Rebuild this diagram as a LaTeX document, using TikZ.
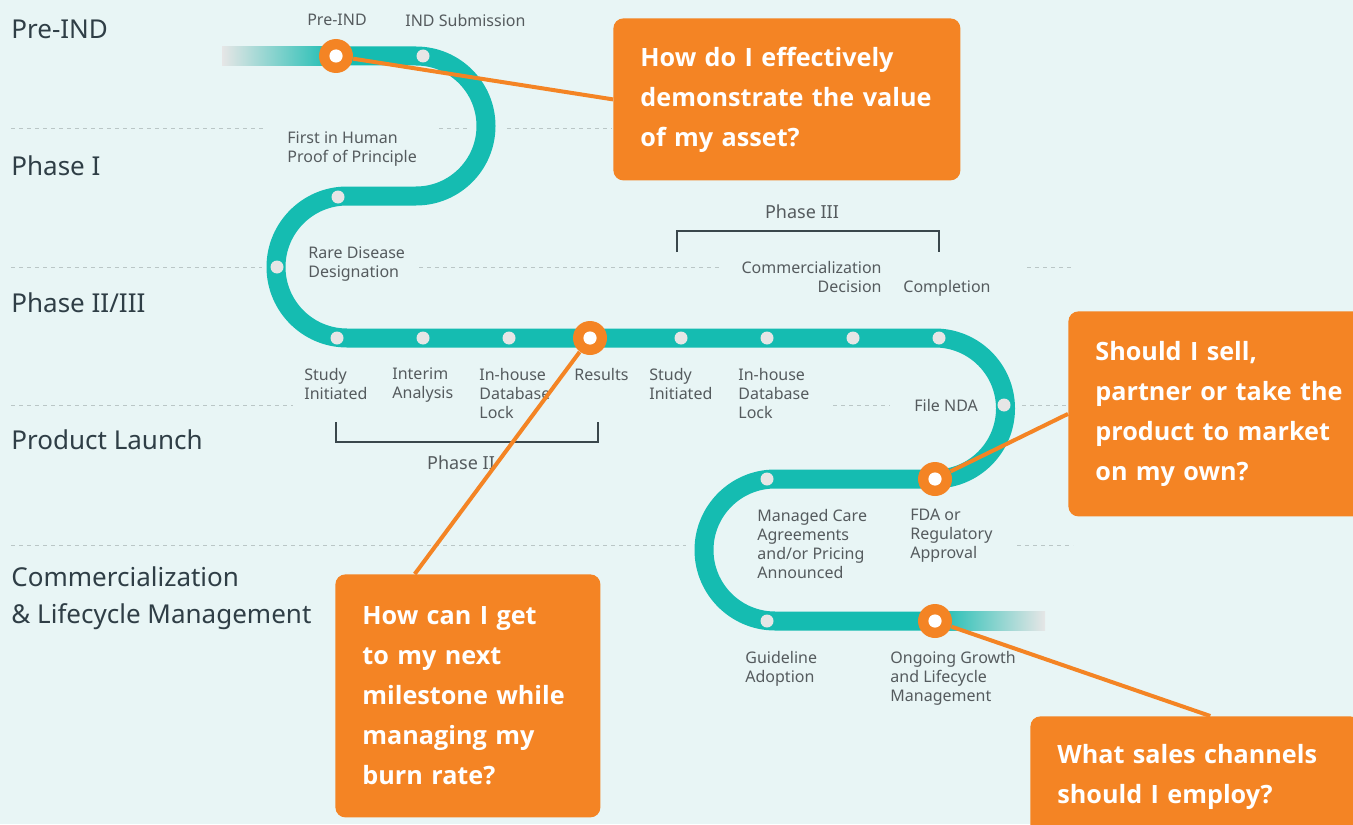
\documentclass[tikz,border=0pt]{standalone}
\usepackage{fontspec}
\setmainfont{Noto Sans}
\IfFontExistsTF{Noto Sans Bold}{\newfontfamily\qfont{Noto Sans Bold}}{%
  \IfFontExistsTF{Open Sans Bold}{\newfontfamily\qfont{Open Sans Bold}}{%
    \newfontfamily\qfont{Lato Bold}}}
\usetikzlibrary{calc}
\definecolor{bgc}{HTML}{E8F5F5}
\definecolor{tealc}{HTML}{15BCB1}
\definecolor{orangec}{HTML}{F48424}
\definecolor{dotc}{HTML}{E6E6E6}
\definecolor{labcol}{HTML}{555B5E}
\definecolor{headcol}{HTML}{2F3E46}
\definecolor{dashcol}{HTML}{BAC6C6}
\definecolor{brkcol}{HTML}{3A474C}
\begin{document}
\begin{tikzpicture}[x=0.5pt,y=-0.5pt,
  lab/.style={font=\fontsize{8pt}{9.5pt}\selectfont, text=labcol, inner sep=0pt, align=left, anchor=north west},
  labr/.style={lab, align=right, anchor=north east},
  labctr/.style={font=\fontsize{9pt}{11pt}\selectfont, text=labcol, inner sep=0pt, anchor=center},
  labtop/.style={font=\fontsize{8pt}{9.5pt}\selectfont, text=labcol, inner sep=0pt, anchor=center},
  head/.style={font=\fontsize{13pt}{18.5pt}\selectfont, text=headcol, inner sep=0pt, align=left, anchor=north west},
  gridline/.style={draw=dashcol, line width=0.5pt, dash pattern=on 2pt off 2pt},
  track/.style={draw=tealc, line width=9.5pt},
  wdot/.style={circle, fill=dotc, minimum size=6.5pt, inner sep=0pt},
  odot/.style={circle, fill=orangec, minimum size=17pt, inner sep=0pt,
    path picture={\fill[white] (path picture bounding box.center) circle (3.3pt);}},
  qbox/.style={fill=orangec, rounded corners=5pt, text=white,
    font=\qfont\fontsize{12.6pt}{20pt}\selectfont, align=left, anchor=north west,
    inner xsep=13.5pt, inner ysep=0pt},
  conn/.style={draw=orangec, line width=2pt},
  brk/.style={draw=brkcol, line width=0.75pt}
]
\useasboundingbox (0,0) rectangle (1353,824);
\clip (0,0) rectangle (1353,824);
\fill[bgc] (0,0) rectangle (1353,824);

% dashed separators
\draw[gridline] (11,128) -- (265,128);
\draw[gridline] (439,128) -- (469,128);
\draw[gridline] (507,128) -- (612,128);
\draw[gridline] (11,267) -- (262,267);
\draw[gridline] (419,267) -- (719,267);
\draw[gridline] (1027,267) -- (1073,267);
\draw[gridline] (11,405) -- (293,405);
\draw[gridline] (833,405) -- (890,405);
\draw[gridline] (1022,405) -- (1068,405);
\draw[gridline] (11,545) -- (686,545);
\draw[gridline] (1017,545) -- (1073,545);

% headings
\node[head] (h1) at (11,19.5) {Pre-IND};
\node[head] (h2) at (11,155.5) {Phase I};
\node[head] (h3) at (11,292.5) {Phase II/III};
\node[head] (h4) at (11,429.5) {Product Launch};
\node[head] (h5) at (11,566.5) {Commercialization\\\& Lifecycle Management};

% track
\shade[left color=dotc, right color=tealc] (222,46.5) rectangle (336,65.5);
\shade[left color=tealc, right color=dotc] (935,611.5) rectangle (1045,630.5);
\draw[track] (335,56) -- (416,56) arc[start angle=-90,end angle=90,radius=70]
  -- (347,196) arc[start angle=-90,end angle=-270,radius=71]
  -- (935,338) arc[start angle=-90,end angle=90,radius=70.5]
  -- (775,479) arc[start angle=-90,end angle=-270,radius=71]
  -- (936,621);

% brackets
\draw[brk] (677,252) -- (677,231) -- (939,231) -- (939,252);
\draw[brk] (336,422) -- (336,442) -- (598,442) -- (598,422);

% stops
\node[wdot] (d1) at (423,56) {};
\node[wdot] (d2) at (338,197) {};
\node[wdot] (d3) at (277,267) {};
\node[wdot] (d4) at (337,338) {};
\node[wdot] (d5) at (423,338) {};
\node[wdot] (d6) at (509,338) {};
\node[wdot] (d7) at (681,338) {};
\node[wdot] (d8) at (767,338) {};
\node[wdot] (d9) at (853,338) {};
\node[wdot] (d10) at (939,338) {};
\node[wdot] (d11) at (1004,405) {};
\node[wdot] (d12) at (767,479) {};
\node[wdot] (d13) at (767,621) {};
\node[odot] (o1) at (336,56) {};
\node[odot] (o2) at (590,338) {};
\node[odot] (o3) at (935,479) {};
\node[odot] (o4) at (935,621) {};

% stop labels
\node[labtop] (t1) at (337,20) {Pre-IND};
\node[lab] (t2) at (405,13.5) {IND Submission};
\node[lab] (t3) at (287,131.5) {First in Human\\Proof of Principle};
\node[lab] (t4) at (308,246.5) {Rare Disease\\Designation};
\node[lab] (t5) at (304,367.5) {Study\\Initiated};
\node[lab] (t6) at (392,367.5) {Interim\\Analysis};
\node[lab] (t7) at (479,367.5) {In-house\\Database\\Lock};
\node[lab] (t8) at (574,367.5) {Results};
\node[lab] (t9) at (649,367.5) {Study\\Initiated};
\node[lab] (t10) at (738,367.5) {In-house\\Database\\Lock};
\node[labctr] (t11) at (802,212) {Phase III};
\node[labr] (t12) at (882,260.5) {Commercialization\\Decision};
\node[lab] (t13) at (903,279.5) {Completion};
\node[lab] (t14) at (914,398.5) {File NDA};
\node[labctr] (t15) at (461,463) {Phase II};
\node[lab] (t16) at (757,508.5) {Managed Care\\Agreements\\and/or Pricing\\Announced};
\node[lab] (t17) at (910,508.5) {FDA or\\Regulatory\\Approval};
\node[lab] (t18) at (745,650.5) {Guideline\\Adoption};
\node[lab] (t19) at (890,650.5) {Ongoing Growth\\and Lifecycle\\Management};

% question boxes
\node[qbox, minimum height=81pt, text width=146.5pt] (q1) at (613,18)
  {\mbox{How do I effectively}\\\mbox{demonstrate the value}\\\mbox{of my asset?}};
\node[qbox, minimum height=102.5pt, text width=123pt] (q2) at (1068,311)
  {\mbox{Should I sell,}\\\mbox{partner or take the}\\\mbox{product to market}\\\mbox{on my own?}};
\node[qbox, minimum height=121.5pt, text width=105.5pt] (q3) at (335,574)
  {\mbox{How can I get}\\\mbox{to my next}\\\mbox{milestone while}\\\mbox{managing my}\\\mbox{burn rate?}};
\node[qbox, minimum height=61pt, text width=138pt] (q4) at (1030,716)
  {\mbox{What sales channels}\\\mbox{should I employ?}};

% connectors
\draw[conn] (o1) -- (q1.west);
\draw[conn] (o3) -- (q2.west);
\draw[conn] (o2) -- ($(q3.north west)!0.3!(q3.north east)$);
\draw[conn] (o4) -- ($(q4.north west)!0.545!(q4.north east)$);
\end{tikzpicture}
\end{document}
